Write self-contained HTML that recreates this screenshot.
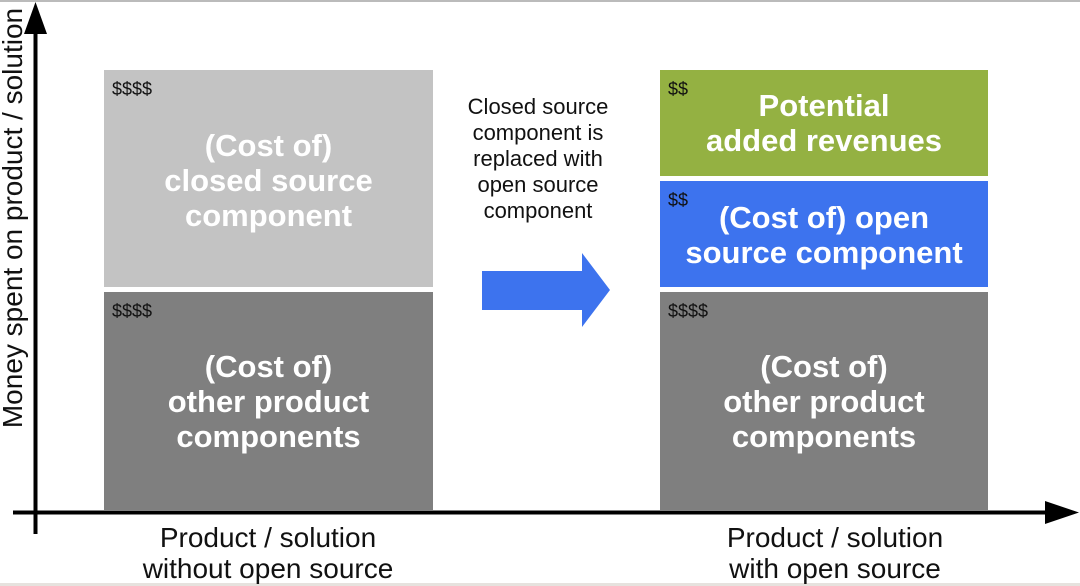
<!DOCTYPE html>
<html><head><style>
body{margin:0;width:1080px;height:586px;background:#fff;position:relative;overflow:hidden;font-family:"Liberation Sans",sans-serif}
.b{position:absolute;color:#fff;font-weight:bold;font-size:31px;line-height:35px;text-align:center;box-sizing:border-box}
.d{position:absolute;left:8px;top:10px;font-size:18px;font-weight:normal;color:#111;line-height:18px}
.t{position:absolute;text-align:center;color:#111}
</style></head><body>
<div style="position:absolute;left:0;top:0;width:1080px;height:2px;background:#bbb"></div>
<div style="position:absolute;left:0;top:583px;width:1080px;height:3px;background:#e6e2de"></div>

<div class="b" style="left:104px;top:70px;width:329px;height:217px;background:#c3c3c3;padding-top:58px"><span class="d">$$$$</span>(Cost of)<br>closed source<br>component</div>
<div class="b" style="left:104px;top:292px;width:329px;height:218px;background:#7f7f7f;padding-top:57px"><span class="d">$$$$</span>(Cost of)<br>other product<br>components</div>

<div class="b" style="left:660px;top:70px;width:328px;height:106px;background:#94b142;padding-top:18px"><span class="d">$$</span>Potential<br>added revenues</div>
<div class="b" style="left:660px;top:181px;width:328px;height:106px;background:#3d73ee;padding-top:19px"><span class="d">$$</span>(Cost of) open<br>source component</div>
<div class="b" style="left:660px;top:292px;width:328px;height:218px;background:#7f7f7f;padding-top:57px"><span class="d">$$$$</span>(Cost of)<br>other product<br>components</div>

<div class="t" style="left:428px;top:94px;width:220px;font-size:22px;line-height:26px">Closed source<br>component is<br>replaced with<br>open source<br>component</div>

<svg style="position:absolute;left:0;top:0" width="1080" height="586">
<polygon points="482,271 582,271 582,253 610,290 582,327 582,310 482,310" fill="#3d73ee"/>
<rect x="33.5" y="28" width="4" height="506" fill="#000"/>
<polygon points="24,34 47,34 35.5,2" fill="#000"/>
<rect x="13" y="510.5" width="1040" height="4" fill="#000"/>
<polygon points="1045,501 1045,524 1079,512.5" fill="#000"/>
</svg>

<div class="t" style="left:-237px;top:203px;width:500px;font-size:28px;line-height:30px;transform:rotate(-90deg)">Money spent on product / solution</div>

<div class="t" style="left:68px;top:522px;width:400px;font-size:28px;line-height:31px">Product / solution<br>without open source</div>
<div class="t" style="left:635px;top:522px;width:400px;font-size:28px;line-height:31px">Product / solution<br>with open source</div>
</body></html>
